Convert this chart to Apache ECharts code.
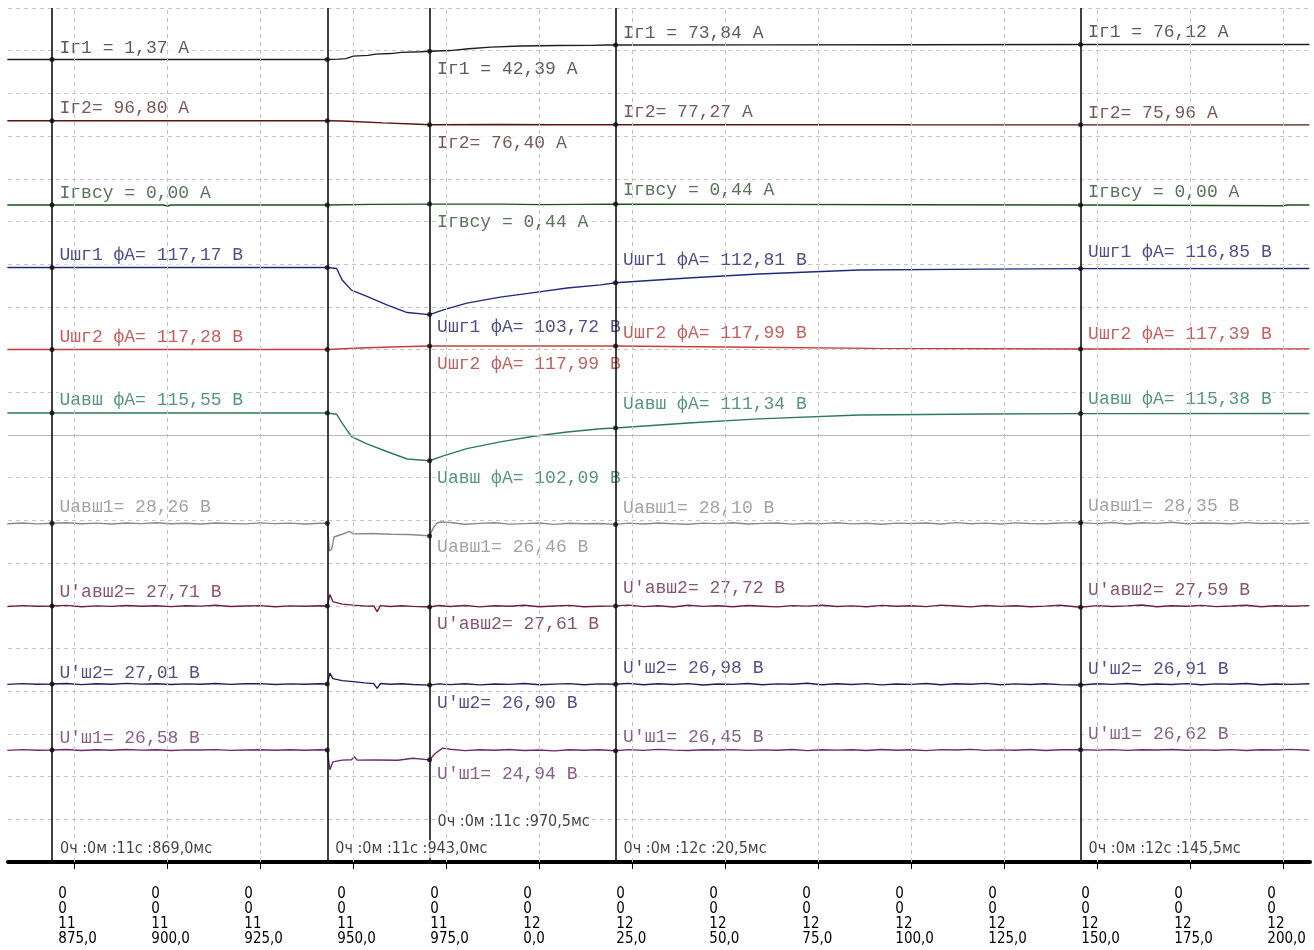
<!DOCTYPE html>
<html>
<head>
<meta charset="utf-8">
<script src="https://cdn.jsdelivr.net/npm/echarts@6/dist/echarts.min.js"></script>
<style>
  html, body { margin: 0; background: #fff; }
  #chart { width: 1314px; height: 950px; }
</style>
</head>
<body>
<div id="chart"></div>
<script>
// cursor times, ms (11 s 869 ms -> 11869)
const cursorT = [11869, 11943, 11970.5, 12020.5, 12145.5];
const cursorRow = [0, 0, 1, 0, 0]; // 970,5 label sits one row higher

// time axis ticks (every 25 ms)
const tickT = [11875, 11900, 11925, 11950, 11975, 12000, 12025, 12050, 12075, 12100, 12125, 12150, 12175, 12200];

// values read at the cursors (2nd cursor has no labels, only dots)
const ig1Cur = [1.37, 1.37, 42.39, 73.84, 76.12];
const ig2Cur = [96.80, 96.80, 76.40, 77.27, 75.96];
const igvsuCur = [0.00, 0.00, 0.44, 0.44, 0.00];
const ushg1Cur = [117.17, 117.17, 103.72, 112.81, 116.85];
const ushg2Cur = [117.28, 117.28, 117.99, 117.99, 117.39];
const uavshCur = [115.55, 115.55, 102.09, 111.34, 115.38];
const uavsh1Cur = [28.26, 28.26, 26.46, 28.10, 28.35];
const uavsh2Cur = [27.71, 27.71, 27.61, 27.72, 27.59];
const ush2Cur = [27.01, 27.01, 26.90, 26.98, 26.91];
const ush1Cur = [26.58, 26.58, 24.94, 26.45, 26.62];

// slow channels: [t, value]
const ig1 = [[11857, 1.37], [11869, 1.37], [11900, 1.37], [11943, 1.37], [11946, 3], [11948, 6], [11950, 18],
  [11954, 22], [11956, 28], [11960, 31], [11963, 37], [11968, 40], [11970.5, 42.39], [11976, 46], [11981, 55],
  [11987, 63], [11995, 69], [12005, 71.5], [12014, 72], [12018, 73.5], [12020.5, 73.84], [12060, 74.6],
  [12100, 75.3], [12145.5, 76.12], [12207, 76.3]];
const ig2 = [[11857, 96.8], [11869, 96.8], [11943, 96.8], [11947, 95.5], [11950, 93], [11958, 86], [11966, 80],
  [11970.5, 76.4], [11990, 77.5], [12005, 76.2], [12020.5, 77.27], [12030, 76.8], [12045, 77.4], [12060, 76.5],
  [12100, 76.2], [12145.5, 75.96], [12207, 76.0]];
const igvsu = [[11857, 0], [11869, 0], [11899, 0], [11900, -0.5], [11901, 0], [11943, 0], [11955, 0.3],
  [11970.5, 0.44], [11990, 0.44], [12000, 0.2], [12020.5, 0.44], [12060, 0.3], [12100, 0.1], [12145.5, 0],
  [12200, -0.4], [12201, 0], [12207, 0]];
const ushg1 = [[11857, 117.17], [11869, 117.17], [11943, 117.17], [11945.5, 116.9], [11947, 113.6],
  [11949.5, 110.7], [11953.5, 109.0], [11959, 106.5], [11964.5, 104.3], [11970.5, 103.72], [11974, 105.0],
  [11980.5, 107.0], [11989.5, 108.7], [11998.5, 110.0], [12007.5, 111.3], [12016.5, 112.2], [12020.5, 112.81],
  [12041, 114.26], [12059, 115.31], [12086, 116.46], [12120, 116.7], [12145.5, 116.85], [12207, 116.9]];
const ushg2 = [[11857, 117.28], [11869, 117.28], [11943, 117.28], [11950, 117.55], [11960, 117.8],
  [11970.5, 117.99], [11990, 117.99], [12020.5, 117.99], [12050, 117.8], [12090, 117.5], [12145.5, 117.39],
  [12207, 117.4]];
const uavsh = [[11857, 115.55], [11869, 115.55], [11943, 115.55], [11945.5, 115.2], [11947, 112.7],
  [11949.5, 108.9], [11953.5, 106.9], [11959, 104.7], [11964.5, 102.6], [11970.5, 102.09], [11974, 103.4],
  [11980.5, 105.5], [11989.5, 107.4], [11998.5, 109.0], [12007.5, 110.2], [12016.5, 111.1], [12020.5, 111.34],
  [12041, 112.8], [12059, 113.9], [12086, 115.0], [12120, 115.25], [12145.5, 115.38], [12207, 115.4]];

// noisy DC channels: sample times before and after the event
const tPre = [11857, 11861, 11865, 11869, 11873, 11877, 11881, 11885, 11889, 11893,
  11897, 11901, 11905, 11909, 11913, 11917, 11921, 11925, 11929, 11933, 11937, 11941];
const tPost = [11976, 11980, 11984, 11988, 11992, 11996, 12000, 12004, 12008, 12012,
  12016, 12020.5, 12024, 12028, 12032, 12036, 12040, 12044, 12048, 12052,
  12056, 12060, 12064, 12068, 12072, 12076, 12080, 12084, 12088, 12092,
  12096, 12100, 12104, 12108, 12112, 12116, 12120, 12124, 12128, 12132,
  12136, 12140, 12145.5, 12150, 12154, 12158, 12162, 12166, 12170, 12174,
  12178, 12182, 12186, 12190, 12194, 12198, 12202, 12207];

const uavsh1Pre = [28.20, 28.31, 28.18, 28.26, 28.33, 28.19, 28.28, 28.16, 28.30, 28.22,
  28.34, 28.20, 28.27, 28.15, 28.31, 28.24, 28.18, 28.32, 28.21, 28.29, 28.17, 28.26];
const uavsh1Event = [[11943, 28.26], [11943.6, 24.3], [11944.2, 24.6], [11944.8, 26.3], [11947, 26.7],
  [11949, 27.1], [11950, 26.75], [11955, 26.8], [11960, 26.7], [11965, 26.65], [11968, 26.55],
  [11970.5, 26.46], [11971.5, 27.6], [11972.5, 28.3], [11973.5, 28.45]];
const uavsh1Post = [28.38, 28.12, 28.25, 28.33, 28.14, 28.22, 28.30, 28.11, 28.27, 28.19,
  28.24, 28.10, 28.28, 28.17, 28.31, 28.20, 28.13, 28.29, 28.22, 28.34,
  28.16, 28.25, 28.30, 28.14, 28.27, 28.21, 28.33, 28.18, 28.26, 28.12,
  28.29, 28.23, 28.31, 28.17, 28.36, 28.20, 28.28, 28.15, 28.32, 28.24,
  28.19, 28.30, 28.35, 28.22, 28.38, 28.16, 28.34, 28.25, 28.40, 28.19,
  28.31, 28.27, 28.20, 28.36, 28.23, 28.29, 28.18, 28.30];

const uavsh2Pre = [27.66, 27.75, 27.68, 27.71, 27.77, 27.64, 27.72, 27.67, 27.76, 27.69,
  27.74, 27.65, 27.73, 27.70, 27.78, 27.66, 27.71, 27.75, 27.63, 27.72, 27.68, 27.74];
const uavsh2Event = [[11943, 27.71], [11943.7, 28.85], [11944.5, 28.15], [11947, 27.9], [11950, 27.8],
  [11953.5, 27.7], [11955.5, 27.72], [11956.4, 27.14], [11957.3, 27.75], [11960, 27.66], [11963, 27.74],
  [11966, 27.67], [11970.5, 27.61], [11973, 27.76]];
const uavsh2Post = [27.66, 27.76, 27.62, 27.73, 27.68, 27.79, 27.64, 27.71, 27.77, 27.63,
  27.69, 27.72, 27.80, 27.65, 27.74, 27.61, 27.78, 27.67, 27.73, 27.64,
  27.76, 27.69, 27.62, 27.75, 27.70, 27.79, 27.66, 27.72, 27.63, 27.77,
  27.68, 27.74, 27.65, 27.80, 27.71, 27.62, 27.76, 27.67, 27.73, 27.64,
  27.70, 27.78, 27.59, 27.75, 27.66, 27.72, 27.81, 27.63, 27.74, 27.68,
  27.77, 27.65, 27.71, 27.79, 27.64, 27.73, 27.69, 27.75];

const ush2Pre = [26.97, 27.05, 26.99, 27.01, 27.06, 26.95, 27.03, 26.98, 27.07, 27.00,
  27.04, 26.96, 27.02, 26.99, 27.06, 26.97, 27.03, 27.05, 26.96, 27.02, 26.99, 27.04];
const ush2Event = [[11943, 27.01], [11943.7, 28.1], [11944.5, 27.55], [11947, 27.35], [11950, 27.25],
  [11953, 27.12], [11955.5, 27.05], [11956.4, 26.58], [11957.3, 27.06], [11960, 26.98], [11963, 27.03],
  [11966, 26.96], [11970.5, 26.90], [11973, 27.02]];
const ush2Post = [26.95, 27.04, 26.92, 27.01, 26.97, 27.06, 26.93, 27.00, 27.05, 26.94,
  27.02, 26.98, 27.07, 26.93, 27.03, 26.96, 27.05, 26.91, 27.01, 26.97,
  27.06, 26.94, 27.02, 26.99, 27.08, 26.93, 27.03, 26.96, 27.05, 26.92,
  27.01, 26.97, 27.06, 26.94, 27.03, 26.98, 27.07, 26.93, 27.02, 26.96,
  27.04, 26.95, 26.91, 27.03, 26.97, 27.06, 26.93, 27.01, 26.96, 27.05,
  26.94, 27.02, 26.98, 27.06, 26.93, 27.01, 26.97, 27.03];

const ush1Pre = [26.52, 26.64, 26.55, 26.58, 26.66, 26.50, 26.61, 26.54, 26.67, 26.56,
  26.62, 26.49, 26.60, 26.57, 26.65, 26.51, 26.59, 26.63, 26.53, 26.61, 26.55, 26.62];
const ush1Event = [[11943, 26.58], [11943.7, 23.3], [11944.5, 24.6], [11947, 24.9], [11949.5, 24.95],
  [11950.3, 25.45], [11951, 24.9], [11956, 24.92], [11962, 24.88], [11966, 25.2], [11970.5, 24.94],
  [11972, 26.0], [11974, 26.9]];
const ush1Post = [26.70, 26.48, 26.62, 26.53, 26.66, 26.50, 26.59, 26.44, 26.63, 26.55,
  26.61, 26.45, 26.64, 26.52, 26.68, 26.56, 26.49, 26.62, 26.57, 26.65,
  26.51, 26.60, 26.54, 26.67, 26.48, 26.63, 26.56, 26.61, 26.50, 26.66,
  26.55, 26.62, 26.47, 26.64, 26.58, 26.69, 26.52, 26.60, 26.54, 26.67,
  26.49, 26.63, 26.62, 26.56, 26.65, 26.51, 26.61, 26.58, 26.66, 26.53,
  26.60, 26.55, 26.64, 26.50, 26.62, 26.57, 26.68, 26.54];

const zip = (ts, vs) => ts.map((t, i) => [t, vs[i]]);
const noisy = (pre, ev, post) => [...zip(tPre, pre), ...ev, ...zip(tPost, post)];

// plot box in pixels; each channel gets its own hidden y axis
const TOP = 8, H = 854, LEFT = 8, RIGHT = 4;
const PX_PER_MS = 3.72;
const T0 = 11869 - (52 - LEFT) / PX_PER_MS;           // left edge of the plot
const T1 = T0 + (1314 - LEFT - RIGHT) / PX_PER_MS;     // right edge
const MONO = "'Liberation Mono', 'DejaVu Sans Mono', monospace";
const NARROW = "'Liberation Sans Narrow', 'DejaVu Sans Condensed', 'Liberation Sans', sans-serif";
const GRID_LINE = { color: '#c4c4c4', type: [4, 4], width: 1 };

const channels = [
  { prefix: 'Iг1 = ', unit: 'А', data: ig1, cur: ig1Cur, base: 1.37, y0: 59.5, s: 0.2,
    color: '#1e1e1e', text: '#333333', dy: [-11, 0, 18, -12, -12] },
  { prefix: 'Iг2= ', unit: 'А', data: ig2, cur: ig2Cur, base: 96.8, y0: 120.7, s: 0.2,
    color: '#5a1414', text: '#553030', dy: [-12, 0, 18, -12, -12] },
  { prefix: 'Iгвсу = ', unit: 'А', data: igvsu, cur: igvsuCur, base: 0, y0: 205, s: 2,
    color: '#1f4f1f', text: '#2f502f', dy: [-12, 0, 18, -14, -13] },
  { prefix: 'Uшг1 фА= ', unit: 'В', data: ushg1, cur: ushg1Cur, base: 117.17, y0: 267.5, s: 3.5,
    color: '#1f2a7a', text: '#232366', dy: [-12, 0, 13, -23, -16] },
  { prefix: 'Uшг2 фА= ', unit: 'В', data: ushg2, cur: ushg2Cur, base: 117.28, y0: 349.5, s: 4.9,
    color: '#c83c3c', text: '#b03838', dy: [-12, 0, 18, -13, -15] },
  { prefix: 'Uавш фА= ', unit: 'В', data: uavsh, cur: uavshCur, base: 115.55, y0: 413, s: 3.55,
    color: '#2e7a58', text: '#2e7a58', dy: [-13, 0, 17, -24, -14] },
  { prefix: 'Uавш1= ', unit: 'В', data: noisy(uavsh1Pre, uavsh1Event, uavsh1Post), cur: uavsh1Cur,
    base: 28.26, y0: 523.3, s: 7, color: '#8a8a8a', text: '#8c8c8c', dy: [-16, 0, 11, -16, -16] },
  { prefix: "U'авш2= ", unit: 'В', data: noisy(uavsh2Pre, uavsh2Event, uavsh2Post), cur: uavsh2Cur,
    base: 27.71, y0: 606, s: 10, color: '#6e1e46', text: '#6a2a4e', dy: [-14, 0, 17, -18, -17] },
  { prefix: "U'ш2= ", unit: 'В', data: noisy(ush2Pre, ush2Event, ush2Post), cur: ush2Cur,
    base: 27.01, y0: 684, s: 10, color: '#1e1e5e', text: '#262666', dy: [-11, 0, 18, -16, -16] },
  { prefix: "U'ш1= ", unit: 'В', data: noisy(ush1Pre, ush1Event, ush1Post), cur: ush1Cur,
    base: 26.58, y0: 750, s: 6, color: '#6e2a6e', text: '#6a386a', dy: [-12, 0, 14, -14, -16] }
];

const num = (v) => v.toFixed(2).replace('.', ',');
const splitTime = (t) => {
  const sec = Math.floor(t / 1000);
  return [sec, (t - sec * 1000).toFixed(1).replace('.', ',')];
};
const timeText = (t) => {
  const [sec, ms] = splitTime(t);
  return '0ч :0м :' + sec + 'с :' + ms + 'мс';
};

const yAxes = [{
  type: 'value', min: 0, max: 20, interval: 1,
  axisLine: { show: false }, axisTick: { show: false }, axisLabel: { show: false },
  splitLine: { lineStyle: GRID_LINE }
}];
const series = [{
  type: 'line', data: [], yAxisIndex: 0, silent: true,
  markLine: {
    symbol: 'none', silent: true, label: { show: false }, animation: false,
    data: [
      ...tickT.map((t) => ({ xAxis: t, lineStyle: GRID_LINE })),
      { yAxis: 10, lineStyle: { color: '#b8b8b8', type: 'solid', width: 1 } },
      ...cursorT.map((t) => ({ xAxis: t, lineStyle: { color: '#111', type: 'solid', width: 1.6 } }))
    ]
  }
}];

channels.forEach((c, i) => {
  const max = c.base + (c.y0 - TOP) / c.s;
  yAxes.push({ type: 'value', show: false, min: max - H / c.s, max: max });
  series.push({
    type: 'line', yAxisIndex: i + 1, data: c.data, showSymbol: false, silent: true,
    lineStyle: { color: c.color, width: 1.4 }, z: 3
  });
  series.push({
    type: 'scatter', yAxisIndex: i + 1, symbol: 'circle', symbolSize: 5, silent: true, z: 4,
    itemStyle: { color: '#111' },
    data: cursorT.map((t, k) => ({
      value: [t, c.cur[k]],
      label: {
        show: k !== 1, position: 'right', distance: 4, offset: [0, c.dy[k]],
        formatter: c.prefix + num(c.cur[k]) + ' ' + c.unit,
        fontFamily: MONO, fontSize: 18, color: c.text, backgroundColor: '#fff', padding: [0, 1]
      }
    }))
  });
});

// cursor time stamps near the bottom
series.push({
  type: 'scatter', yAxisIndex: 0, symbolSize: 0, silent: true, z: 5,
  data: cursorT.map((t, k) => ({
    value: [t, 0.3 + cursorRow[k] * 0.64],
    label: {
      show: true, position: 'right', distance: 6, formatter: timeText(t),
      fontFamily: NARROW, fontSize: 16, color: '#111', backgroundColor: '#fff', padding: [1, 2]
    }
  }))
});

const chart = echarts.init(document.getElementById('chart'), null, { renderer: 'canvas' });
chart.setOption({
  animation: false,
  backgroundColor: '#fff',
  grid: { left: LEFT, right: RIGHT, top: TOP, bottom: 950 - TOP - H, containLabel: false },
  xAxis: {
    type: 'value', min: T0, max: T1,
    axisLine: { lineStyle: { color: '#000', width: 4 } },
    axisTick: { customValues: tickT, length: 7, lineStyle: { color: '#000', width: 1 } },
    axisLabel: {
      customValues: tickT, margin: 25, align: 'center',
      formatter: (v) => {
        const [sec, ms] = splitTime(v);
        return '{a|0}\n{a|0}\n{a|' + sec + '}\n{a|' + ms + '}';
      },
      rich: { a: { width: 32, align: 'left', fontFamily: NARROW, fontSize: 15, lineHeight: 15, color: '#000' } }
    },
    splitLine: { show: false }
  },
  yAxis: yAxes,
  series: series
});
</script>
</body>
</html>
